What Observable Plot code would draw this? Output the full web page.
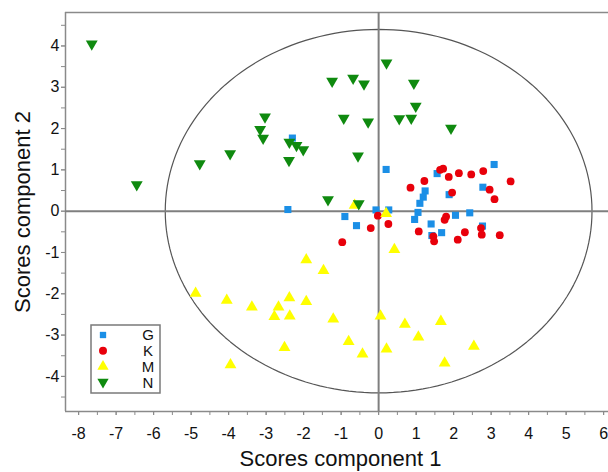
<!DOCTYPE html>
<html><head><meta charset="utf-8">
<script src="https://cdn.jsdelivr.net/npm/d3@7"></script>
<script src="https://cdn.jsdelivr.net/npm/@observablehq/plot@0.6"></script>
<style>body{margin:0;background:#fff} #chart{width:608px;height:472px}</style>
</head><body><div id="chart"></div>
<script>
// Series (score component 1, score component 2)
const groupNames = ["G", "K", "M", "N"];
const groupColors = ["#1b8fe6", "#e8000b", "#ffff00", "#0f8a0f"];
const pointsG = [[-2.30,1.77],[-2.42,0.04],[-0.90,-0.13],[-0.59,-0.35],[-0.07,0.03],[0.27,0.03],[0.20,1.01],[3.08,1.13],[1.56,0.91],[1.24,0.49],[1.19,0.34],[1.10,0.19],[1.88,0.40],[2.78,0.58],[1.05,-0.03],[0.96,-0.20],[1.40,-0.31],[1.42,-0.59],[1.68,-0.52],[2.05,-0.10],[2.43,-0.04],[2.77,-0.36]];
const pointsK = [[0.85,0.57],[1.22,0.73],[1.64,1.00],[1.72,1.03],[1.87,0.83],[2.14,0.92],[2.47,0.89],[2.79,0.97],[3.52,0.72],[2.96,0.52],[3.09,0.29],[1.96,0.45],[-0.02,-0.11],[0.26,-0.31],[-0.21,-0.41],[-0.97,-0.75],[1.07,-0.49],[1.46,-0.61],[1.48,-0.73],[1.76,-0.21],[1.80,-0.13],[2.11,-0.69],[2.30,-0.51],[2.73,-0.41],[2.75,-0.57],[3.23,-0.58]];
const pointsM = [[-0.64,0.14],[0.20,-0.06],[0.42,-0.93],[-1.93,-1.18],[-1.47,-1.44],[-4.88,-1.99],[-4.05,-2.16],[-3.38,-2.32],[-2.67,-2.32],[-2.38,-2.10],[-1.93,-2.19],[-2.78,-2.55],[-2.37,-2.54],[-1.21,-2.61],[0.05,-2.54],[0.70,-2.74],[1.66,-2.67],[1.06,-3.05],[-0.80,-3.16],[-0.43,-3.46],[0.21,-3.34],[-2.51,-3.30],[-3.95,-3.72],[2.54,-3.27],[1.76,-3.68]];
const pointsN = [[-7.65,4.05],[-6.45,0.64],[-4.77,1.15],[-3.96,1.39],[-3.03,2.28],[-3.16,1.98],[-3.08,1.77],[-2.38,1.67],[-2.19,1.59],[-2.01,1.49],[-2.39,1.23],[-1.24,3.15],[-0.68,3.22],[-0.39,3.08],[-0.93,2.25],[-0.28,2.16],[-0.55,1.34],[-1.35,0.28],[-0.53,0.18],[0.21,3.59],[0.94,3.10],[0.99,2.54],[0.55,2.24],[0.87,2.25],[1.93,2.01]];

// Axes
const xTicks = [-8,-7,-6,-5,-4,-3,-2,-1,0,1,2,3,4,5,6];
const yTicks = [-4,-3,-2,-1,0,1,2,3,4];
const xDomain = [-8.35, 6.13];
const yDomain = [-4.85, 4.81];
const xLabel = "Scores component 1";
const yLabel = "Scores component 2";
// Confidence ellipse radii
const ellipseA = 5.69, ellipseB = 4.40;

const ellipse = d3.range(0, 361, 2).map(d => {
  const t = d * Math.PI / 180;
  return {x: ellipseA * Math.cos(t), y: ellipseB * Math.sin(t)};
});
const minorX = d3.range(-8, 6.01, 0.5);
const minorY = d3.range(-4.5, 4.51, 0.5);

const axisColor = "#8a8a8a";
const font = "'Liberation Sans', Arial, sans-serif";

const dotMark = (pts, i, opts) => Plot.dot(pts, {x: d => d[0], y: d => d[1], fill: groupColors[i], stroke: "none", ...opts});

const plot = Plot.plot({
  width: 608, height: 472,
  marginLeft: 65, marginTop: 12, marginBottom: 61, marginRight: 0,
  style: {fontFamily: font, background: "#fff", color: "#111"},
  x: {domain: xDomain},
  y: {domain: yDomain},
  marks: [
    Plot.ruleX([xDomain[0]], {stroke: axisColor, strokeWidth: 1.5}),
    Plot.ruleY([yDomain[0]], {stroke: axisColor, strokeWidth: 1.5}),
    Plot.ruleY([yDomain[1]], {stroke: axisColor, strokeWidth: 1.5}),
    Plot.axisX({ticks: minorX, tickSize: 4, fill: "none", stroke: axisColor, label: null}),
    Plot.axisX({ticks: xTicks, tickSize: 4, tickPadding: 12, fontSize: 16, stroke: axisColor, fill: "#111", label: null, tickFormat: d => String(d)}),
    Plot.axisY({ticks: minorY, tickSize: 4, fill: "none", stroke: axisColor, label: null}),
    Plot.axisY({ticks: yTicks, tickSize: 4, tickPadding: 2, fontSize: 16, stroke: axisColor, fill: "#111", label: null, tickFormat: d => String(d)}),
    Plot.line(ellipse, {x: "x", y: "y", stroke: "#555", strokeWidth: 1.2}),
    Plot.ruleX([0], {stroke: "#7f7f7f", strokeWidth: 2}),
    Plot.ruleY([0], {stroke: "#7f7f7f", strokeWidth: 2}),
    dotMark(pointsG, 0, {symbol: "square", r: 4}),
    dotMark(pointsK, 1, {symbol: "circle", r: 3.9}),
    dotMark(pointsM, 2, {symbol: "triangle", r: 4.4}),
    dotMark(pointsN, 3, {symbol: "triangle", r: 4.4, rotate: 180}),
    Plot.text([xLabel], {frameAnchor: "bottom", textAnchor: "middle", lineAnchor: "middle", dx: 3.5, dy: 47, fontSize: 22, fill: "#111"}),
    Plot.text([yLabel], {frameAnchor: "left", textAnchor: "middle", lineAnchor: "middle", rotate: -90, dx: -42.5, dy: 0, fontSize: 22, fill: "#111"})
  ]
});
document.getElementById("chart").appendChild(plot);

// Legend box inside the plot
const svg = d3.select(plot);
const lg = svg.append("g");
lg.append("rect").attr("x", 91).attr("y", 325).attr("width", 69).attr("height", 68)
  .attr("fill", "#fff").attr("stroke", "#7a7a7a").attr("stroke-width", 1.5);
const symbols = [d3.symbolSquare, d3.symbolCircle, d3.symbolTriangle, d3.symbolTriangle];
const sizes = [40, 50, 55, 55];
groupNames.forEach((name, i) => {
  const cy = 335 + i * 15.7;
  lg.append("path").attr("d", d3.symbol(symbols[i], sizes[i])())
    .attr("transform", `translate(103,${cy})` + (i === 3 ? " rotate(180)" : ""))
    .attr("fill", groupColors[i]);
  lg.append("text").attr("x", 148).attr("y", cy).attr("dy", "0.36em")
    .attr("text-anchor", "middle").attr("font-size", 15).attr("font-family", font)
    .attr("fill", "#111").text(name);
});
</script>
</body></html>
